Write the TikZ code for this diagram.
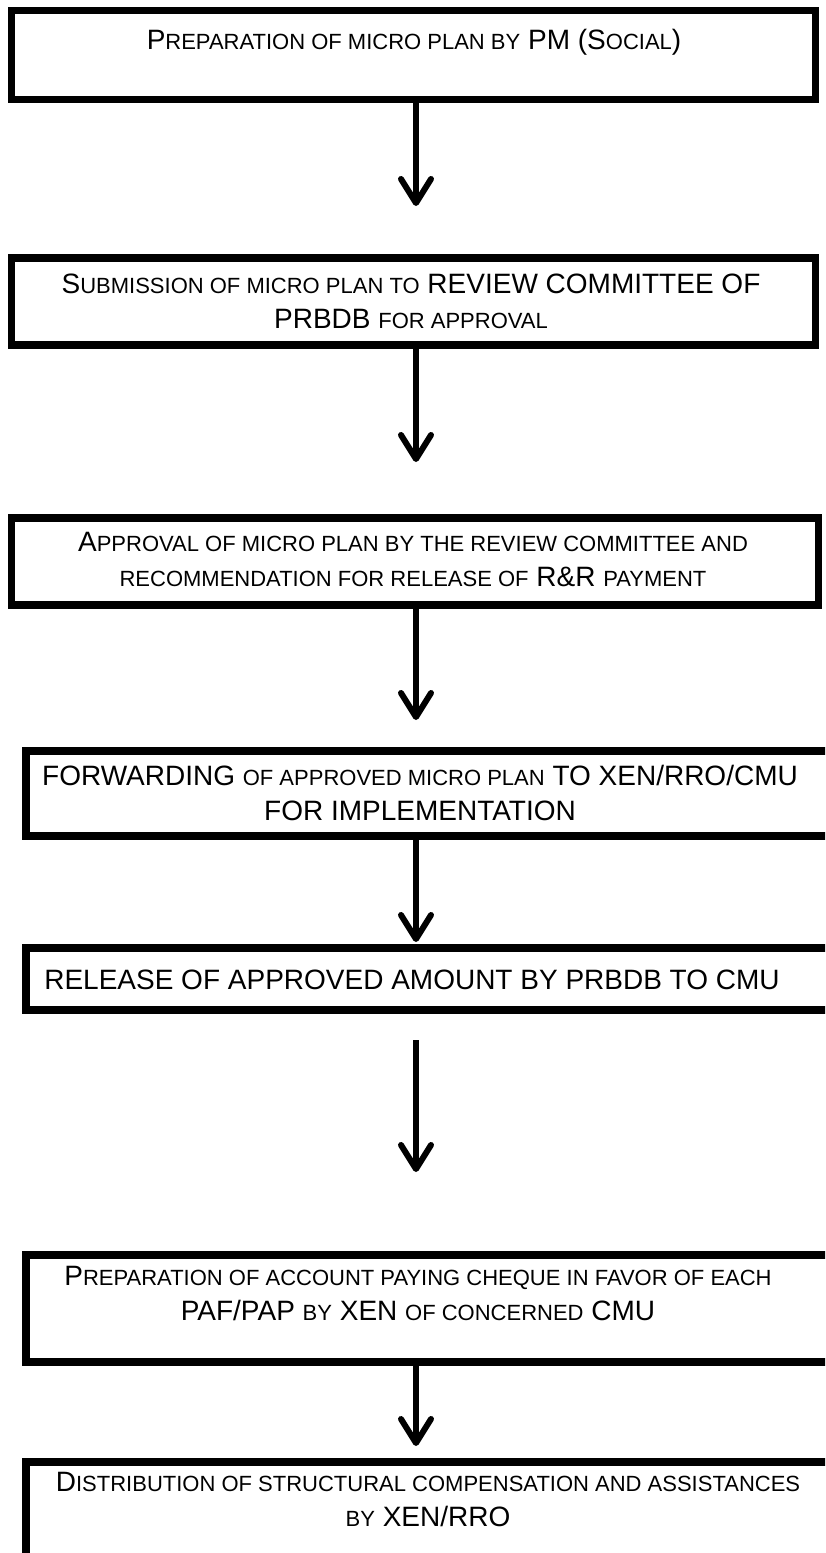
\documentclass[tikz,border=0pt]{standalone}
\usepackage{fontspec}
\setmainfont{Liberation Sans}
\usetikzlibrary{arrows.meta, positioning, calc}

% small-cap size for the fake small capitals
\newcommand{\smc}[1]{{\fontsize{22}{35}\selectfont #1}}

\begin{document}
\begin{tikzpicture}[
    x=1pt, y=-1pt,
    >={Straight Barb[length=24pt, width=30pt, line cap=round, line join=round]},
]
% Colors
\definecolor{boxstroke}{RGB}{0,0,0}
\definecolor{arrowblack}{RGB}{0,0,0}
% ============================================================
% Styles
% ============================================================
\tikzset{
    stepbox/.style={
        draw=boxstroke,
        fill=white,
        line width=7.5pt,
        anchor=north west,
        outer sep=0pt,
        inner sep=0pt,
    },
    steptext/.style={font=\fontsize{28}{35}\selectfont, align=center, inner sep=0pt},
    flow/.style={->, arrowblack, line width=6pt},
}
\useasboundingbox (0,0) rectangle (825,1553);
\clip (0,0) rectangle (825,1553);

% ============================================================
% Seven step boxes, one column, top to bottom
% ============================================================
% Box 1: micro plan
\node[stepbox, minimum width=804pt, minimum height=89pt] (b1) at (11.5, 10.5) {};
\node[steptext] (t1) at (414, 42) {P\smc{REPARATION OF MICRO PLAN BY} PM (S\smc{OCIAL})};
% Box 2: submission
\node[stepbox, minimum width=804pt, minimum height=87pt] (b2) at (11.5, 258) {};
\node[steptext] (t2) at (411, 301) {S\smc{UBMISSION OF MICRO PLAN TO} REVIEW COMMITTEE OF\\ PRBDB \smc{FOR APPROVAL}};
% Box 3: approval
\node[stepbox, minimum width=807pt, minimum height=87pt] (b3) at (11.5, 518) {};
\node[steptext] (t3) at (413, 559) {A\smc{PPROVAL OF MICRO PLAN BY THE REVIEW COMMITTEE AND}\\ \smc{RECOMMENDATION FOR RELEASE OF} R\&R \smc{PAYMENT}};

% --- lower boxes, shifted right and running off the page ---
% Box 4: forwarding
\node[stepbox, minimum width=820pt, minimum height=85pt] (b4) at (26, 751) {};
\node[steptext] (t4) at (420, 793) {FORWARDING \smc{OF APPROVED MICRO PLAN} TO XEN/RRO/CMU\\ FOR IMPLEMENTATION};
% Box 5: release
\node[stepbox, minimum width=820pt, minimum height=62pt] (b5) at (26, 948) {};
\node[steptext] (t5) at (412, 980) {RELEASE OF APPROVED AMOUNT BY PRBDB TO CMU};
% Box 6: cheque
\node[stepbox, minimum width=820pt, minimum height=107pt] (b6) at (26, 1255) {};
\node[steptext] (t6) at (418, 1293) {P\smc{REPARATION OF ACCOUNT PAYING CHEQUE IN FAVOR OF EACH}\\ PAF/PAP \smc{BY} XEN \smc{OF CONCERNED} CMU};
% Box 7: distribution
\node[stepbox, minimum width=820pt, minimum height=110pt] (b7) at (26, 1462) {};
\node[steptext] (t7) at (428, 1499) {D\smc{ISTRIBUTION OF STRUCTURAL COMPENSATION AND ASSISTANCES}\\ \smc{BY} XEN/RRO};

% ============================================================
% Arrows
% ============================================================
\coordinate (a1) at (416, 206);
\coordinate (a2) at (416, 462);
\coordinate (a3) at (416, 720);
\coordinate (a4) at (416, 942);
\coordinate (s5) at (416, 1040);
\coordinate (a5) at (416, 1172);
\coordinate (a6) at (416, 1446);
\foreach \i/\j in {b1/a1, b2/a2, b3/a3, b4/a4, b6/a6} {
    \draw[flow] (\i.south -| \j) -- (\j);
}
% loose arrow between box 5 and box 6
\draw[flow] (s5) -- (a5);
\end{tikzpicture}
\end{document}
